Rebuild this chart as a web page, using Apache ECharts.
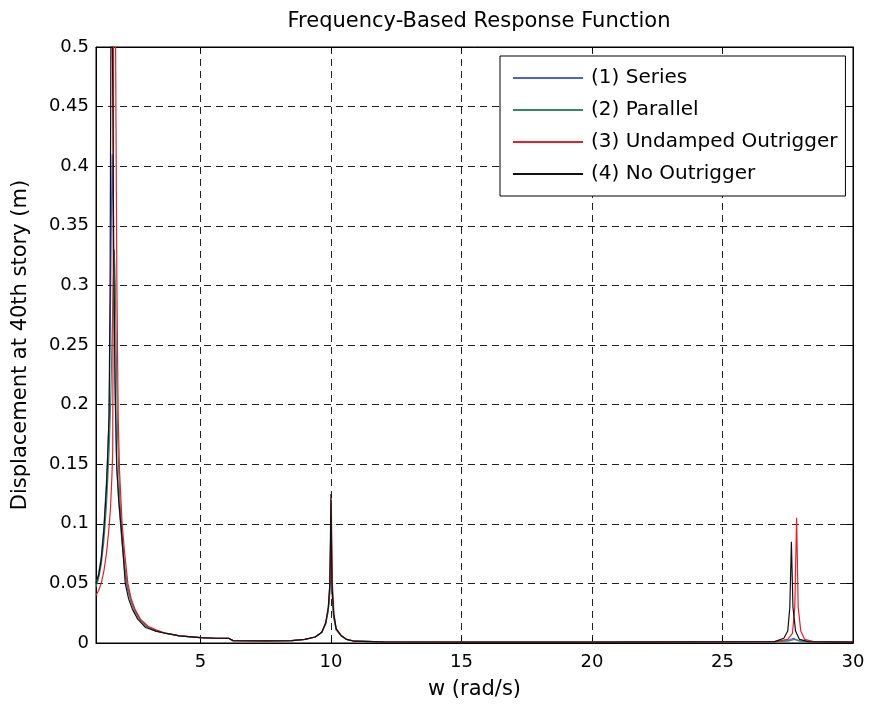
<!DOCTYPE html>
<html>
<head>
<meta charset="utf-8">
<script src="https://cdn.jsdelivr.net/npm/echarts@6/dist/echarts.min.js"></script>
<style>
  html, body { margin: 0; padding: 0; background: #fff; }
  #chart { width: 871px; height: 710px; }
</style>
</head>
<body>
<div id="chart"></div>
<script>
// Frequency response of the 40th-story displacement, [w (rad/s), displacement (m)]
const seriesDamper = [[1.0,0.05],[1.1,0.058],[1.2,0.072],[1.3,0.097],[1.4,0.135],[1.45,0.16],[1.5,0.19],[1.55,0.27],[1.59,0.36],[1.62,0.41],[1.65,0.37],[1.69,0.29],[1.74,0.2],[1.8,0.145],[1.9,0.11],[2.0,0.083],[2.1,0.06],[2.2,0.046],[2.35,0.034],[2.5,0.026],[2.7,0.019],[3.0,0.013],[3.3,0.01],[3.7,0.008],[4.2,0.006],[5.0,0.0045],[5.6,0.004],[6.1,0.0038],[6.25,0.002],[7.5,0.0018],[8.5,0.002],[9.0,0.003],[9.4,0.005],[9.65,0.009],[9.8,0.016],[9.9,0.028],[9.96,0.045],[10.0,0.1],[10.04,0.045],[10.1,0.023],[10.2,0.011],[10.4,0.006],[10.6,0.003],[10.9,0.0015],[12,0.001],[16,0.0008],[20,0.0008],[24,0.0009],[27.0,0.0011],[27.5,0.002],[27.72,0.004],[27.9,0.002],[28.3,0.001],[30,0.0008]];

const parallelDamper = [[1.0,0.047],[1.1,0.054],[1.2,0.066],[1.3,0.085],[1.4,0.115],[1.5,0.16],[1.56,0.2],[1.62,0.26],[1.66,0.3],[1.7,0.33],[1.74,0.3],[1.78,0.24],[1.82,0.18],[1.9,0.125],[2.0,0.09],[2.1,0.065],[2.2,0.048],[2.35,0.035],[2.5,0.027],[2.7,0.019],[3.0,0.013],[3.3,0.01],[3.7,0.008],[4.2,0.006],[5.0,0.0045],[5.6,0.004],[6.1,0.0038],[6.25,0.002],[7.5,0.0018],[8.5,0.002],[9.0,0.003],[9.4,0.005],[9.65,0.009],[9.8,0.016],[9.9,0.027],[9.96,0.043],[10.0,0.095],[10.04,0.043],[10.1,0.022],[10.2,0.011],[10.4,0.006],[10.6,0.003],[10.9,0.0015],[12,0.001],[16,0.0008],[20,0.0008],[24,0.0009],[27.0,0.0011],[27.55,0.0018],[27.75,0.003],[27.95,0.0018],[28.3,0.001],[30,0.0008]];

const undampedOutrigger = [[1.0,0.04],[1.1,0.044],[1.2,0.05],[1.3,0.06],[1.4,0.075],[1.5,0.097],[1.56,0.115],[1.61,0.14],[1.64,0.16],[1.66,0.3],[1.67,0.5],[1.71,1.1],[1.75,0.5],[1.8,0.3],[1.85,0.19],[1.9,0.145],[2.0,0.1],[2.1,0.075],[2.22,0.05],[2.35,0.037],[2.5,0.028],[2.7,0.02],[3.0,0.014],[3.3,0.011],[3.7,0.008],[4.2,0.006],[5.0,0.0045],[5.6,0.004],[6.1,0.0038],[6.25,0.002],[7.5,0.0018],[8.5,0.002],[9.0,0.003],[9.4,0.005],[9.65,0.009],[9.8,0.017],[9.9,0.03],[9.96,0.05],[10.01,0.12],[10.06,0.048],[10.12,0.024],[10.2,0.012],[10.4,0.006],[10.6,0.003],[10.9,0.0015],[12,0.001],[16,0.0008],[20,0.0008],[24,0.0009],[27.0,0.0011],[27.5,0.003],[27.68,0.008],[27.77,0.03],[27.84,0.105],[27.9,0.03],[28.0,0.01],[28.15,0.003],[28.5,0.0012],[30,0.0008]];

const noOutrigger = [[1.0,0.05],[1.1,0.057],[1.2,0.07],[1.3,0.094],[1.4,0.13],[1.45,0.158],[1.5,0.19],[1.54,0.3],[1.57,0.5],[1.6,1.0],[1.63,0.5],[1.68,0.33],[1.73,0.22],[1.79,0.15],[1.87,0.12],[1.95,0.1],[2.05,0.072],[2.12,0.05],[2.25,0.037],[2.4,0.028],[2.6,0.02],[2.9,0.013],[3.3,0.01],[3.7,0.008],[4.2,0.006],[5.0,0.0045],[5.6,0.004],[6.1,0.0038],[6.25,0.002],[7.5,0.0018],[8.5,0.002],[9.0,0.003],[9.4,0.005],[9.65,0.009],[9.8,0.017],[9.9,0.03],[9.96,0.05],[10.0,0.125],[10.04,0.05],[10.1,0.025],[10.2,0.012],[10.4,0.006],[10.6,0.003],[10.9,0.0015],[12,0.001],[16,0.0008],[20,0.0008],[24,0.0009],[27.0,0.0012],[27.35,0.004],[27.5,0.01],[27.58,0.03],[27.64,0.085],[27.7,0.03],[27.8,0.01],[27.95,0.003],[28.3,0.0012],[30,0.0008]];

const seriesNames = ['(1) Series', '(2) Parallel', '(3) Undamped Outrigger', '(4) No Outrigger'];
const seriesColors = ['#4a62dc', '#2f8a62', '#ee1c25', '#111111'];
const xTicks = [5, 10, 15, 20, 25, 30];

const FONT = '"DejaVu Sans", "Liberation Sans", Arial, sans-serif';
const chart = echarts.init(document.getElementById('chart'));

const gridLine = { show: true, lineStyle: { color: '#222', type: [7, 5], width: 1 } };

chart.setOption({
  animation: false,
  backgroundColor: '#fff',
  title: {
    text: 'Frequency-Based Response Function',
    left: 474, textAlign: 'center', top: 6,
    textStyle: { fontFamily: FONT, fontSize: 21, fontWeight: 'normal', color: '#000' }
  },
  legend: {
    data: seriesNames,
    orient: 'vertical',
    left: 500, top: 56,
    padding: [11, 8, 11, 13],
    itemGap: 10,
    itemWidth: 70, itemHeight: 2,
    icon: 'rect',
    backgroundColor: '#fff',
    borderColor: '#000', borderWidth: 1, borderRadius: 0,
    textStyle: { fontFamily: FONT, fontSize: 20, color: '#000', lineHeight: 22, padding: [0, 0, 0, 3] }
  },
  grid: {
    left: 96, right: 18, top: 47, bottom: 67,
    show: true, borderColor: '#000', borderWidth: 1, backgroundColor: 'transparent'
  },
  xAxis: [{
    type: 'value', min: 1, max: 30,
    name: 'w (rad/s)', nameLocation: 'middle', nameGap: 36,
    nameTextStyle: { fontFamily: FONT, fontSize: 21, color: '#000' },
    axisLine: { show: true, onZero: false, lineStyle: { color: '#000' } },
    axisTick: { show: true, inside: true, length: 6, customValues: xTicks, lineStyle: { color: '#000' } },
    axisLabel: { customValues: xTicks, fontFamily: FONT, fontSize: 18, color: '#000', margin: 10 },
    splitLine: gridLine
  }, {
    type: 'value', min: 1, max: 30, position: 'top',
    axisLine: { show: true, onZero: false, lineStyle: { color: '#000' } },
    axisTick: { show: true, inside: true, length: 6, customValues: xTicks, lineStyle: { color: '#000' } },
    axisLabel: { show: false },
    splitLine: { show: false }
  }],
  yAxis: [{
    type: 'value', min: 0, max: 0.5, interval: 0.05,
    name: 'Displacement at 40th story (m)', nameLocation: 'middle', nameGap: 65,
    nameTextStyle: { fontFamily: FONT, fontSize: 21, color: '#000' },
    axisLine: { show: true, onZero: false, lineStyle: { color: '#000' } },
    axisTick: { show: true, inside: true, length: 6, lineStyle: { color: '#000' } },
    axisLabel: { fontFamily: FONT, fontSize: 18, color: '#000', margin: 7 },
    splitLine: gridLine
  }, {
    type: 'value', min: 0, max: 0.5, interval: 0.05, position: 'right',
    axisLine: { show: true, onZero: false, lineStyle: { color: '#000' } },
    axisTick: { show: true, inside: true, length: 6, lineStyle: { color: '#000' } },
    axisLabel: { show: false },
    splitLine: { show: false }
  }],
  series: [seriesDamper, parallelDamper, undampedOutrigger, noOutrigger].map((d, i) => ({
    name: seriesNames[i],
    type: 'line',
    data: d,
    showSymbol: false,
    symbol: 'none',
    clip: true,
    color: seriesColors[i],
    lineStyle: { color: seriesColors[i], width: 1.2 }
  }))
});
</script>
</body>
</html>
